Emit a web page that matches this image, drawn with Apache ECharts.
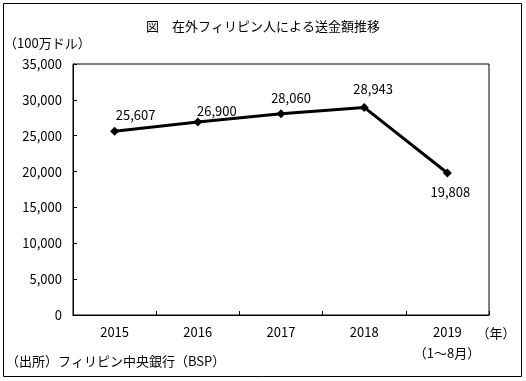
<!DOCTYPE html>
<html>
<head>
<meta charset="utf-8">
<script src="https://cdn.jsdelivr.net/npm/echarts@6/dist/echarts.min.js"></script>
<style>
html,body{margin:0;padding:0;background:#fff;}
#chart{width:526px;height:381px;}
</style>
</head>
<body>
<div id="chart"></div>
<script>
var categories = ['2015', '2016', '2017', '2018', '2019'];
var values = [25607, 26900, 28060, 28943, 19808];
var labelOffsets = [[21, -16], [19, -11], [10, -16], [9, -18], [3, 19]];
var titleText = '図　在外フィリピン人による送金額推移';
var unitText = '（100万ドル）';
var yearText = '（年）';
var periodText = '（1〜8月）';
var sourceText = '（出所）フィリピン中央銀行（BSP）';

var FONT = '"Noto Sans CJK JP", sans-serif';
var chart = echarts.init(document.getElementById('chart'), null, {renderer: 'canvas'});

var seriesData = values.map(function (v, i) {
  return {
    value: v,
    label: {offset: labelOffsets[i]}
  };
});

chart.setOption({
  animation: false,
  backgroundColor: '#fff',
  textStyle: {fontFamily: FONT},
  title: {
    text: titleText,
    left: 'center',
    top: 15,
    textStyle: {fontFamily: FONT, fontSize: 13, fontWeight: 'normal', color: '#000'}
  },
  grid: {
    left: 73, right: 37, top: 64, bottom: 66,
    show: true, borderColor: '#000', borderWidth: 1, backgroundColor: 'transparent'
  },
  xAxis: {
    type: 'category',
    data: categories,
    boundaryGap: true,
    axisLine: {show: true, lineStyle: {color: '#000', width: 1}},
    axisTick: {show: true, inside: true, length: 4, interval: 0, lineStyle: {color: '#000'}},
    axisLabel: {color: '#000', fontSize: 13, fontFamily: FONT, margin: 11}
  },
  yAxis: {
    type: 'value',
    min: 0, max: 35000, interval: 5000,
    axisLine: {show: true, lineStyle: {color: '#000', width: 1}},
    axisTick: {show: true, inside: true, length: 4, lineStyle: {color: '#000'}},
    splitLine: {show: false},
    axisLabel: {
      color: '#000', fontSize: 13, fontFamily: FONT, margin: 11,
      formatter: function (v) { return v.toLocaleString('en-US'); }
    }
  },
  series: [{
    type: 'line',
    data: seriesData,
    symbol: 'diamond',
    symbolSize: 9,
    itemStyle: {color: '#000'},
    lineStyle: {color: '#000', width: 3},
    label: {
      show: true,
      position: 'inside',
      color: '#000',
      fontSize: 13,
      fontFamily: FONT,
      formatter: function (p) { return p.value.toLocaleString('en-US'); }
    }
  }],
  graphic: [
    {type: 'rect', shape: {x: 3.5, y: 3.5, width: 518, height: 373}, style: {fill: 'none', stroke: '#000', lineWidth: 1}, silent: true},
    {type: 'text', left: 4, top: 37, style: {text: unitText, font: '13px ' + FONT, fill: '#000'}},
    {type: 'text', x: 496, y: 333, style: {text: yearText, font: '13px ' + FONT, fill: '#000', textAlign: 'center', textVerticalAlign: 'middle'}},
    {type: 'text', x: 447, y: 353, style: {text: periodText, font: '13px ' + FONT, fill: '#000', textAlign: 'center', textVerticalAlign: 'middle'}},
    {type: 'text', x: 6, y: 361, style: {text: sourceText, font: '13px ' + FONT, fill: '#000', textAlign: 'left', textVerticalAlign: 'middle'}}
  ]
});
</script>
</body>
</html>
